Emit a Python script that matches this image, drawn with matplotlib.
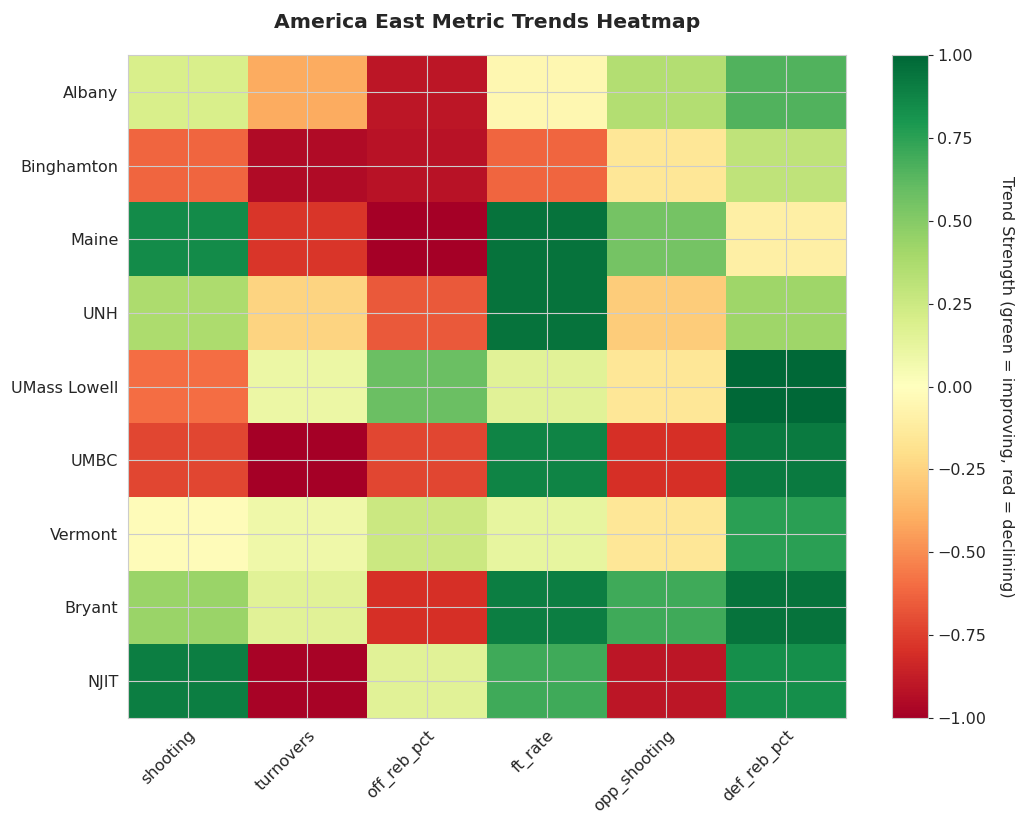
import matplotlib
matplotlib.use("Agg")
import matplotlib.pyplot as plt
import numpy as np
import seaborn as sns

teams = ["Albany", "Binghamton", "Maine", "UNH", "UMass Lowell",
         "UMBC", "Vermont", "Bryant", "NJIT"]
metrics = ["shooting", "turnovers", "off_reb_pct", "ft_rate",
           "opp_shooting", "def_reb_pct"]

# trend strength per team (rows) and metric (columns)
albany = [0.20, -0.40, -0.90, -0.05, 0.35, 0.65]
binghamton = [-0.62, -0.95, -0.92, -0.62, -0.15, 0.30]
maine = [0.85, -0.78, -1.00, 0.95, 0.55, -0.10]
unh = [0.37, -0.25, -0.66, 0.95, -0.28, 0.42]
umass_lowell = [-0.60, 0.10, 0.58, 0.15, -0.15, 1.00]
umbc = [-0.72, -1.00, -0.72, 0.88, -0.80, 0.92]
vermont = [-0.02, 0.08, 0.25, 0.12, -0.15, 0.75]
bryant = [0.43, 0.15, -0.80, 0.90, 0.70, 0.95]
njit = [0.90, -0.98, 0.15, 0.70, -0.90, 0.83]


def main():
    sns.set_style("whitegrid")
    data = np.array([albany, binghamton, maine, unh, umass_lowell,
                     umbc, vermont, bryant, njit])

    fig = plt.figure(figsize=(10.24, 8.26), dpi=100)
    ax = fig.add_axes([0.125, 0.131, 0.701, 0.802])
    cax = fig.add_axes([0.871, 0.131, 0.035, 0.802])

    im = ax.imshow(data, cmap="RdYlGn", vmin=-1, vmax=1, aspect="auto")
    ax.set_xticks(range(len(metrics)))
    ax.set_xticklabels(metrics, rotation=45, ha="right",
                       rotation_mode="anchor", fontsize=11.5)
    ax.set_yticks(range(len(teams)))
    ax.set_yticklabels(teams, fontsize=11.5)
    ax.set_title("America East Metric Trends Heatmap", fontsize=14.7,
                 fontweight="bold", pad=20)

    cbar = fig.colorbar(im, cax=cax)
    cbar.set_label("Trend Strength (green = improving, red = declining)",
                   rotation=270, labelpad=20, fontsize=11.5)
    cbar.ax.tick_params(labelsize=11.5)

    fig.savefig("out.png", dpi=100)


if __name__ == "__main__":
    main()
